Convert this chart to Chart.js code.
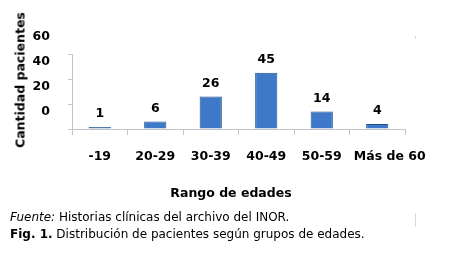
<!DOCTYPE html>
<html>
<head>
<meta charset="utf-8">
<script src="https://cdn.jsdelivr.net/npm/chart.js@4"></script>
<style>
  html, body { margin: 0; padding: 0; background: #fff; }
  #wrap { position: relative; width: 451px; height: 270px; overflow: hidden; }
  #c { position: absolute; left: 0; top: 0; }
  .ttl { position: absolute; font-family: "DejaVu Sans", sans-serif; font-weight: bold; font-size: 12.5px; color: #000; white-space: nowrap; }
  #ytitle { left: 20px; top: 80px; transform: translate(-50%, -50%) rotate(-90deg); }
  #xtitle { left: 231px; top: 192px; transform: translate(-50%, -50%); }
  .cap { position: absolute; left: 10px; font-family: "DejaVu Sans", sans-serif; font-size: 12px; line-height: 14px; color: #000; white-space: nowrap; }
  #src { top: 210px; }
  #fig { top: 227px; }
  .mark { position: absolute; left: 415px; width: 1px; background: #d8d8d8; }
</style>
</head>
<body>
<div id="wrap">
  <canvas id="c" width="451" height="270"></canvas>
  <div class="ttl" id="ytitle">Cantidad pacientes</div>
  <div class="ttl" id="xtitle">Rango de edades</div>
  <div class="cap" id="src"><i>Fuente:</i> Historias clínicas del archivo del INOR.</div>
  <div class="cap" id="fig"><b>Fig. 1.</b> Distribución de pacientes según grupos de edades.</div>
  <div class="mark" style="top:36px;height:3px"></div>
  <div class="mark" style="top:213px;height:14px"></div>
</div>
<script>
// age groups and patient counts
const categories = ['-19', '20-29', '30-39', '40-49', '50-59', 'Más de 60'];
const pacientes = [1, 6, 26, 45, 14, 4];
const yTicks = [0, 20, 40, 60];

const axisGray = '#c4c4c4';
const tickFont = { family: 'DejaVu Sans', weight: 'bold', size: 12.5 };

// value labels above each bar
const valueLabels = {
    id: 'valueLabels',
    afterDatasetsDraw(chart) {
        const ctx = chart.ctx;
        const meta = chart.getDatasetMeta(0);
        ctx.save();
        ctx.font = 'bold 12.5px "DejaVu Sans"';
        ctx.fillStyle = '#000';
        ctx.textAlign = 'center';
        ctx.textBaseline = 'middle';
        meta.data.forEach((bar, i) => {
            ctx.fillText(String(pacientes[i]), bar.x, bar.y - 13);
        });
        ctx.restore();
    }
};

function barFill(context) {
    const chart = context.chart;
    const el = context.element;
    if (!chart.chartArea || !el || !el.width) return '#3e78c8';
    const g = chart.ctx.createLinearGradient(el.x - el.width / 2, 0, el.x + el.width / 2, 0);
    g.addColorStop(0, '#3466b2');
    g.addColorStop(0.4, '#4a86d2');
    g.addColorStop(1, '#3068b6');
    return g;
}

new Chart(document.getElementById('c').getContext('2d'), {
    type: 'bar',
    data: {
        labels: categories,
        datasets: [{
            label: 'Pacientes',
            data: pacientes,
            backgroundColor: barFill,
            borderColor: '#21508f',
            borderWidth: 1,
            minBarLength: 2,
            barPercentage: 0.4,
            categoryPercentage: 1
        }]
    },
    plugins: [valueLabels],
    options: {
        responsive: false,
        animation: false,
        devicePixelRatio: 1,
        layout: { padding: { left: 0, top: 54, right: 46, bottom: 101 } },
        plugins: { legend: { display: false }, tooltip: { enabled: false } },
        scales: {
            x: {
                grid: { display: true, drawOnChartArea: false, drawTicks: true, tickLength: 6, color: axisGray, offset: true },
                border: { display: true, color: axisGray },
                ticks: {
                    color: '#000', font: tickFont, padding: 14, maxRotation: 0, autoSkip: false,
                    // last label sits a little to the right in the original
                    callback(value, index) {
                        const lbl = categories[index];
                        return index === categories.length - 1 ? '\u2003\u2003' + lbl : lbl;
                    }
                },
                afterFit(scale) { scale.height = 40; }
            },
            y: {
                min: 0,
                max: 60,
                afterBuildTicks(scale) { scale.ticks = yTicks.map(v => ({ value: v })); },
                grid: { display: true, drawOnChartArea: false, drawTicks: true, tickLength: 4, color: axisGray },
                border: { display: true, color: axisGray },
                ticks: { color: '#000', font: tickFont, padding: 18, labelOffset: -17 },
                afterFit(scale) { scale.width = 72; }
            }
        }
    }
});
</script>
</body>
</html>
